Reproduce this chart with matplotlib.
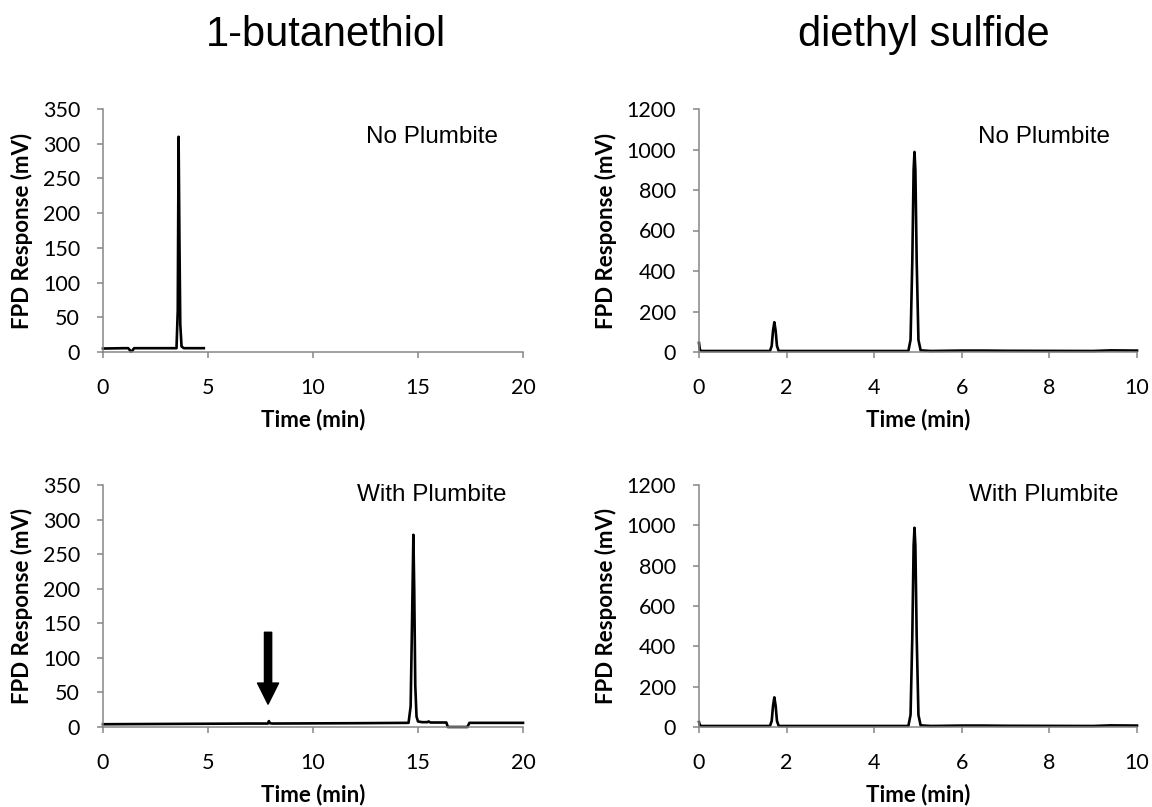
import matplotlib
matplotlib.use("Agg")
import matplotlib.pyplot as plt

# ---- chromatogram data (time in min, FPD response in mV) ----
# 1-butanethiol, no plumbite
bt_no_time = [0.0, 1.0, 1.2, 1.27, 1.33, 1.40, 1.48, 3.0, 3.50, 3.56, 3.60, 3.64, 3.68, 3.74, 3.85, 4.8]
bt_no_resp = [5.0, 5.5, 5.5, 3.0, 0.5, 2.0, 5.5, 5.5, 5.5, 60.0, 310.0, 160.0, 40.0, 8.0, 5.5, 5.5]

# 1-butanethiol, with plumbite
bt_pb_time = [0.0, 7.0, 7.85, 7.9, 7.95, 8.05, 12.0, 14.55, 14.65, 14.72, 14.78, 14.82, 14.87,
              14.93, 15.0, 15.2, 15.45, 15.5, 15.6, 16.35, 16.42, 17.35, 17.45, 20.0]
bt_pb_resp = [4.0, 5.0, 5.0, 8.5, 5.5, 5.0, 5.5, 6.0, 30.0, 160.0, 278.0, 200.0, 60.0,
              15.0, 8.0, 7.0, 7.0, 8.0, 6.5, 6.5, 0.0, 0.0, 6.0, 6.0]

# diethyl sulfide, no plumbite
de_no_time = [0.0, 0.02, 0.06, 1.0, 1.62, 1.66, 1.69, 1.72, 1.75, 1.78, 1.82, 3.0, 4.78, 4.83,
              4.87, 4.90, 4.92, 4.94, 4.97, 5.01, 5.06, 5.3, 6.0, 6.5, 7.0, 9.0, 9.4, 10.0]
de_no_resp = [45.0, 10.0, 5.0, 5.0, 5.0, 30.0, 105.0, 147.0, 105.0, 30.0, 5.0, 5.0, 5.0, 60.0,
              450.0, 900.0, 988.0, 900.0, 450.0, 60.0, 8.0, 5.0, 7.0, 7.0, 6.0, 5.0, 8.0, 7.0]

# diethyl sulfide, with plumbite
de_pb_time = [0.0, 0.02, 0.06, 1.0, 1.62, 1.66, 1.69, 1.72, 1.75, 1.78, 1.82, 3.0, 4.78, 4.83,
              4.87, 4.90, 4.92, 4.94, 4.97, 5.01, 5.06, 5.3, 6.0, 6.5, 7.0, 9.0, 9.4, 10.0]
de_pb_resp = [25.0, 8.0, 5.0, 5.0, 5.0, 30.0, 105.0, 147.0, 105.0, 30.0, 5.0, 5.0, 5.0, 60.0,
              450.0, 900.0, 988.0, 900.0, 450.0, 60.0, 8.0, 5.0, 7.0, 7.0, 6.0, 5.0, 8.0, 7.0]

compounds = ["1-butanethiol", "diethyl sulfide"]
conditions = ["No Plumbite", "With Plumbite"]
bt_yticks = [0, 50, 100, 150, 200, 250, 300, 350]
de_yticks = [0, 200, 400, 600, 800, 1000, 1200]
bt_xticks = [0, 5, 10, 15, 20]
de_xticks = [0, 2, 4, 6, 8, 10]

# arrow marking the position of the vanished thiol peak
arrow_time = 7.86
arrow_top, arrow_tip = 137, 33

TICK_FONT = "Lato"
TEXT_FONT = "Liberation Sans"
GRAY = "#868686"

fig = plt.figure(figsize=(11.52, 8.07), dpi=100)

W, H = 1152.0, 807.0
def box(l, t, r, b):
    return [l / W, 1 - b / H, (r - l) / W, (b - t) / H]

panels = [
    (box(103, 109, 523, 352), bt_no_time, bt_no_resp, bt_xticks, bt_yticks, conditions[0], (18.8, 310)),
    (box(103, 485, 523, 727), bt_pb_time, bt_pb_resp, bt_xticks, bt_yticks, conditions[1], (19.2, 336)),
    (box(699, 109, 1137, 352), de_no_time, de_no_resp, de_xticks, de_yticks, conditions[0], (9.38, 1062)),
    (box(699, 485, 1137, 727), de_pb_time, de_pb_resp, de_xticks, de_yticks, conditions[1], (9.57, 1150)),
]

axes = []
for rect, t, r, xt, yt, label, pos in panels:
    ax = fig.add_axes(rect)
    ax.plot(t, r, color="black", lw=1.9, solid_joinstyle="round", clip_on=False)
    ax.set_xlim(xt[0], xt[-1])
    ax.set_ylim(yt[0], yt[-1])
    ax.set_xticks(xt)
    ax.set_yticks(yt)
    for s in ("top", "right"):
        ax.spines[s].set_visible(False)
    for s in ("left", "bottom"):
        ax.spines[s].set_color(GRAY)
        ax.spines[s].set_linewidth(1.1)
    ax.tick_params(axis="both", direction="out", length=4.5, width=1.1, color=GRAY,
                   labelsize=15.5, pad=12)
    ax.tick_params(axis="x", pad=14)
    for lab in ax.get_xticklabels() + ax.get_yticklabels():
        lab.set_fontfamily(TICK_FONT)
    ax.set_ylabel("FPD Response (mV)", fontsize=16, fontweight="bold", family=TICK_FONT)
    ax.set_xlabel("Time (min)", fontsize=16, fontweight="bold", family=TICK_FONT)
    ax.xaxis.set_label_coords(0.5, -0.235)
    ax.text(pos[0], pos[1], label, ha="right", va="center", fontsize=17.5, family=TEXT_FONT)
    axes.append(ax)

axes[0].yaxis.set_label_coords(-0.167, 0.5)
axes[1].yaxis.set_label_coords(-0.167, 0.5)
axes[2].yaxis.set_label_coords(-0.187, 0.5)
axes[3].yaxis.set_label_coords(-0.187, 0.5)

axes[1].annotate("", xy=(arrow_time, arrow_tip), xytext=(arrow_time, arrow_top),
                 arrowprops=dict(arrowstyle="simple,head_width=0.76,head_length=0.76,tail_width=0.26",
                                 mutation_scale=20, color="black", shrinkA=0, shrinkB=0))

fig.text(326 / W, 1 - 46 / H, compounds[0], ha="center", va="baseline", fontsize=30, family=TEXT_FONT)
fig.text(924 / W, 1 - 46 / H, compounds[1], ha="center", va="baseline", fontsize=30, family=TEXT_FONT)

fig.savefig("out.png", dpi=100)
